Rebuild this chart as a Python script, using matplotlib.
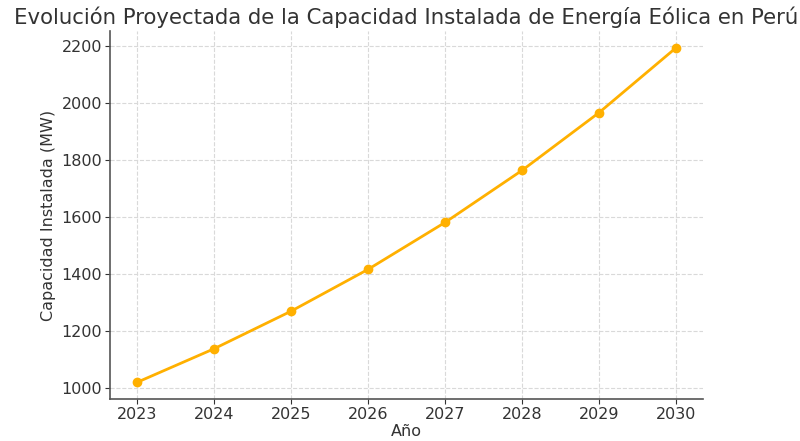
import matplotlib
matplotlib.use("Agg")
import matplotlib.pyplot as plt

years = [2023, 2024, 2025, 2026, 2027, 2028, 2029, 2030]
capacity_mw = [1020, 1138, 1270, 1417, 1582, 1765, 1968, 2196]

title = "Evolución Proyectada de la Capacidad Instalada de Energía Eólica en Perú"
line_color = "#FFB000"
text_color = "#333333"

fig = plt.figure(figsize=(8.0, 4.41), dpi=100)
ax = fig.add_axes([0.1375, 0.095, 0.7415, 0.835])

ax.plot(years, capacity_mw, color=line_color, linewidth=2, marker="o", markersize=6)

ax.set_title(title, fontsize=15.3, color=text_color, pad=5)
ax.set_xlabel("Año", fontsize=11.5, color=text_color, labelpad=1)
ax.set_ylabel("Capacidad Instalada (MW)", fontsize=11.5, color=text_color, labelpad=4)
ax.set_xticks(years)
ax.set_yticks([1000, 1200, 1400, 1600, 1800, 2000, 2200])
ax.tick_params(labelsize=11.5, colors=text_color, pad=2.5)
ax.tick_params(axis="y", pad=2)

ax.grid(True, linestyle="--", color="#d9d9d9", linewidth=0.8)
ax.set_axisbelow(True)
for side in ["top", "right"]:
    ax.spines[side].set_visible(False)
for side in ["left", "bottom"]:
    ax.spines[side].set_color("#555555")
    ax.spines[side].set_linewidth(1.2)

fig.savefig("out.png", dpi=100)
